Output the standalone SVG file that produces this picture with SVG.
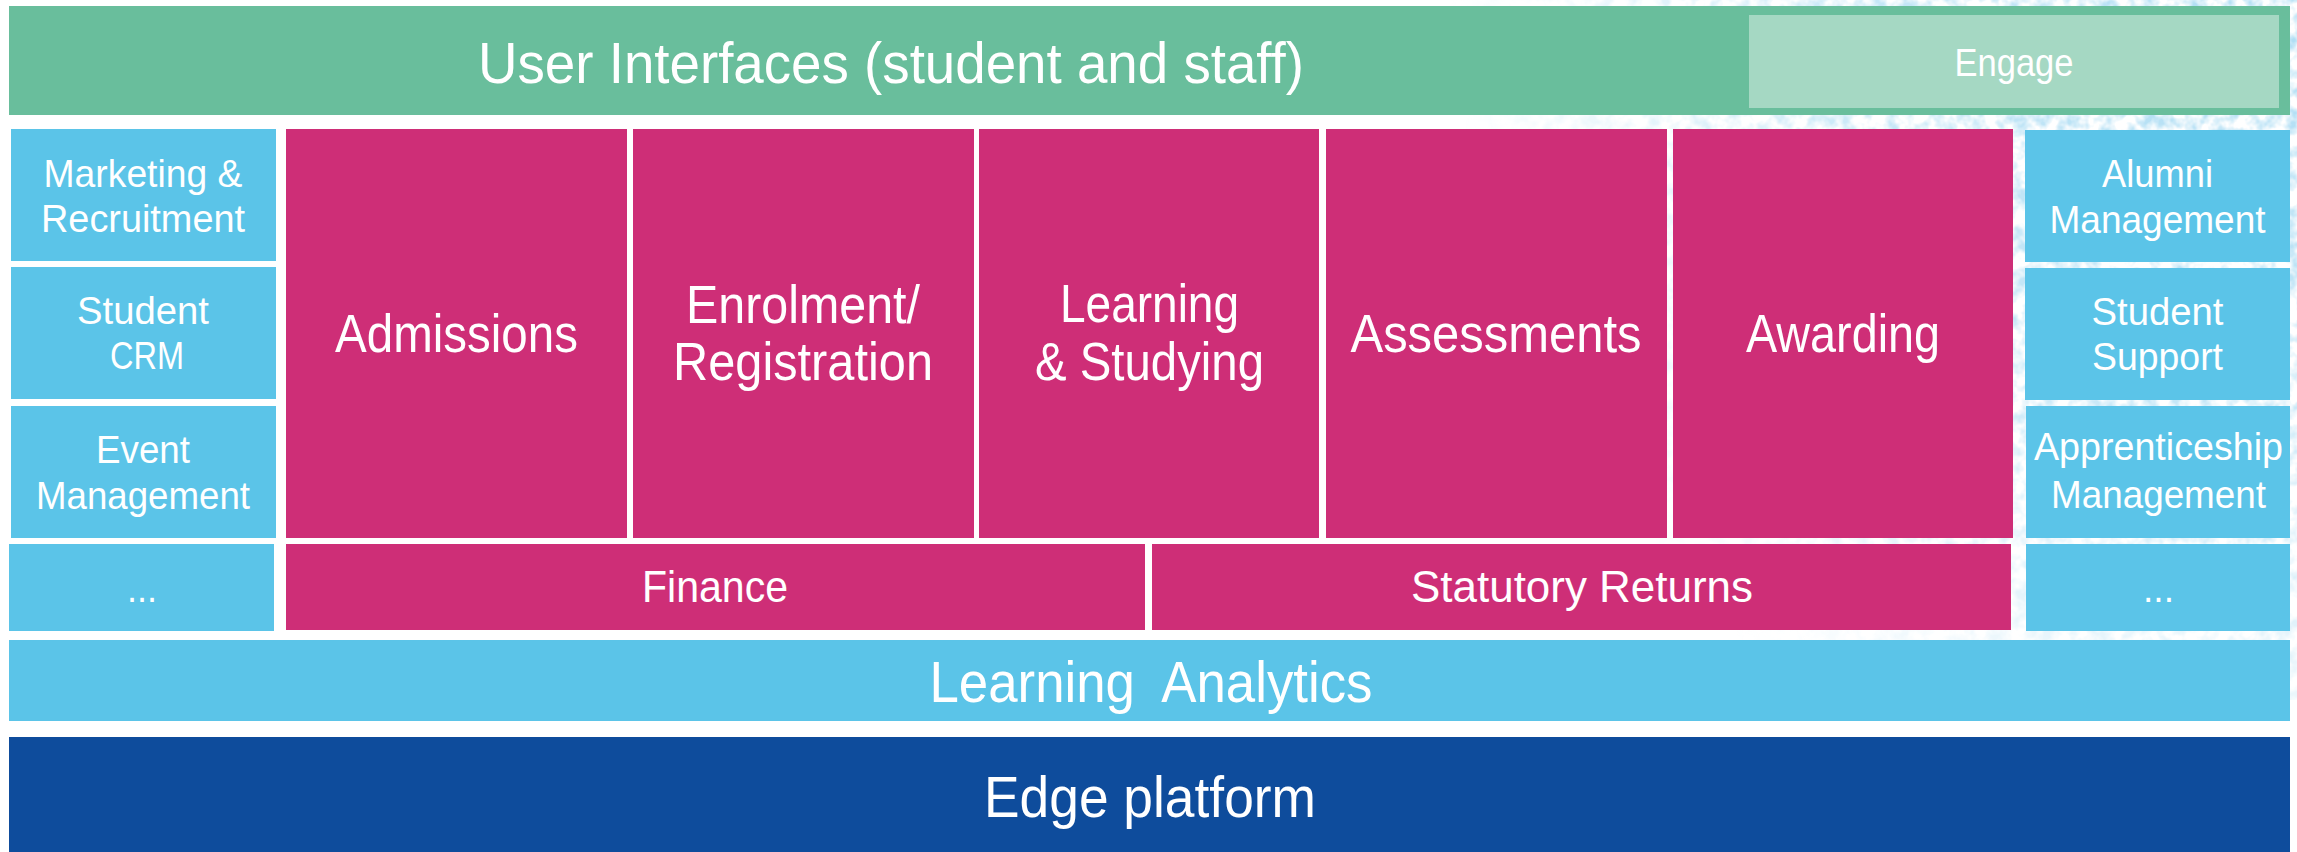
<svg xmlns="http://www.w3.org/2000/svg" width="2297" height="852" viewBox="0 0 2297 852">
<defs>
<radialGradient id="wash" cx="2297" cy="0" r="850" gradientUnits="userSpaceOnUse">
<stop offset="0" stop-color="#000" stop-opacity="1"/>
<stop offset="0.5" stop-color="#000" stop-opacity="0.7"/>
<stop offset="1" stop-color="#000" stop-opacity="0"/>
</radialGradient>
<filter id="speck" x="0" y="0" width="100%" height="100%" filterUnits="userSpaceOnUse">
<feTurbulence type="fractalNoise" baseFrequency="0.07" numOctaves="3" seed="5" result="n"/>
<feColorMatrix in="n" type="matrix" values="0 0 0 0 0.42  0 0 0 0 0.72  0 0 0 0 0.90  0 0 0 2.6 -1.0" result="c"/>
<feComposite in="c" in2="SourceGraphic" operator="in"/>
</filter>
<style>
.t{font-family:"Liberation Sans",Arial,sans-serif;fill:#ffffff;text-anchor:middle;white-space:pre}
.s{font-size:39px}
.m{font-size:45px}
.b{font-size:53px}
.x{font-size:58px}
.mag{fill:#CE2E77}
.cy{fill:#5BC4E8}
</style>
</defs>
<rect x="0" y="0" width="2297" height="852" fill="#ffffff"/>
<rect x="1200" y="0" width="1097" height="700" fill="url(#wash)" filter="url(#speck)"/>

<g id="user-interfaces">
<rect x="9" y="6" width="2281" height="109" fill="#69BE9C"/>
<text class="t x" x="891" y="83" font-size="57" textLength="826" lengthAdjust="spacingAndGlyphs">User Interfaces (student and staff)</text>
</g>
<g id="engage">
<rect x="1749" y="15" width="530" height="93" fill="#A5D8C3"/>
<text class="t s" x="2014" y="76" textLength="119" lengthAdjust="spacingAndGlyphs">Engage</text>
</g>

<g id="marketing">
<rect class="cy" x="11" y="129" width="265" height="132"/>
<text class="t s" x="143" y="187" textLength="199" lengthAdjust="spacingAndGlyphs">Marketing &amp;</text>
<text class="t s" x="143" y="232" textLength="204" lengthAdjust="spacingAndGlyphs">Recruitment</text>
</g>
<g id="student-crm">
<rect class="cy" x="11" y="267" width="265" height="132"/>
<text class="t s" x="143" y="324" textLength="132" lengthAdjust="spacingAndGlyphs">Student</text>
<text class="t s" x="147" y="369" textLength="74" lengthAdjust="spacingAndGlyphs">CRM</text>
</g>
<g id="event-management">
<rect class="cy" x="11" y="406" width="265" height="132"/>
<text class="t s" x="143" y="463" textLength="94" lengthAdjust="spacingAndGlyphs">Event</text>
<text class="t s" x="143" y="509" textLength="214" lengthAdjust="spacingAndGlyphs">Management</text>
</g>
<g id="left-more">
<rect class="cy" x="9" y="544" width="265" height="87"/>
<text class="t s" x="142" y="602" textLength="30" lengthAdjust="spacingAndGlyphs">...</text>
</g>

<g id="admissions">
<rect class="mag" x="286" y="129" width="341" height="409"/>
<text class="t b" x="456.5" y="352" textLength="243" lengthAdjust="spacingAndGlyphs">Admissions</text>
</g>
<g id="enrolment">
<rect class="mag" x="633" y="129" width="341" height="409"/>
<text class="t b" x="803" y="323" textLength="234" lengthAdjust="spacingAndGlyphs">Enrolment/</text>
<text class="t b" x="803" y="380" textLength="260" lengthAdjust="spacingAndGlyphs">Registration</text>
</g>
<g id="learning-studying">
<rect class="mag" x="979" y="129" width="340" height="409"/>
<text class="t b" x="1149.5" y="322" textLength="179" lengthAdjust="spacingAndGlyphs">Learning</text>
<text class="t b" x="1149.5" y="380" textLength="229" lengthAdjust="spacingAndGlyphs">&amp; Studying</text>
</g>
<g id="assessments">
<rect class="mag" x="1326" y="129" width="341" height="409"/>
<text class="t b" x="1496" y="352" textLength="291" lengthAdjust="spacingAndGlyphs">Assessments</text>
</g>
<g id="awarding">
<rect class="mag" x="1673" y="129" width="340" height="409"/>
<text class="t b" x="1843" y="352" textLength="194" lengthAdjust="spacingAndGlyphs">Awarding</text>
</g>

<g id="finance">
<rect class="mag" x="286" y="544" width="859" height="86"/>
<text class="t m" x="715" y="602" textLength="146" lengthAdjust="spacingAndGlyphs">Finance</text>
</g>
<g id="statutory-returns">
<rect class="mag" x="1152" y="544" width="859" height="86"/>
<text class="t m" x="1582" y="602" textLength="342" lengthAdjust="spacingAndGlyphs">Statutory Returns</text>
</g>

<g id="alumni">
<rect class="cy" x="2025" y="130" width="265" height="132"/>
<text class="t s" x="2157.5" y="187" textLength="111" lengthAdjust="spacingAndGlyphs">Alumni</text>
<text class="t s" x="2157.5" y="233" textLength="216" lengthAdjust="spacingAndGlyphs">Management</text>
</g>
<g id="student-support">
<rect class="cy" x="2025" y="268" width="265" height="132"/>
<text class="t s" x="2157.5" y="325" textLength="132" lengthAdjust="spacingAndGlyphs">Student</text>
<text class="t s" x="2157.5" y="370" textLength="131" lengthAdjust="spacingAndGlyphs">Support</text>
</g>
<g id="apprenticeship">
<rect class="cy" x="2026" y="406" width="264" height="132"/>
<text class="t s" x="2158.5" y="460" textLength="249" lengthAdjust="spacingAndGlyphs">Apprenticeship</text>
<text class="t s" x="2158.5" y="508" textLength="215" lengthAdjust="spacingAndGlyphs">Management</text>
</g>
<g id="right-more">
<rect class="cy" x="2026" y="544" width="264" height="87"/>
<text class="t s" x="2158.5" y="602" textLength="31" lengthAdjust="spacingAndGlyphs">...</text>
</g>

<g id="learning-analytics">
<rect class="cy" x="9" y="640" width="2281" height="81"/>
<text class="t x" x="1151" y="702" textLength="443" lengthAdjust="spacingAndGlyphs">Learning  Analytics</text>
</g>
<g id="edge-platform">
<rect x="9" y="737" width="2281" height="115" fill="#0E4C9C"/>
<text class="t x" x="1150" y="817" textLength="332" lengthAdjust="spacingAndGlyphs">Edge platform</text>
</g>

<g id="connectors"></g>
</svg>
